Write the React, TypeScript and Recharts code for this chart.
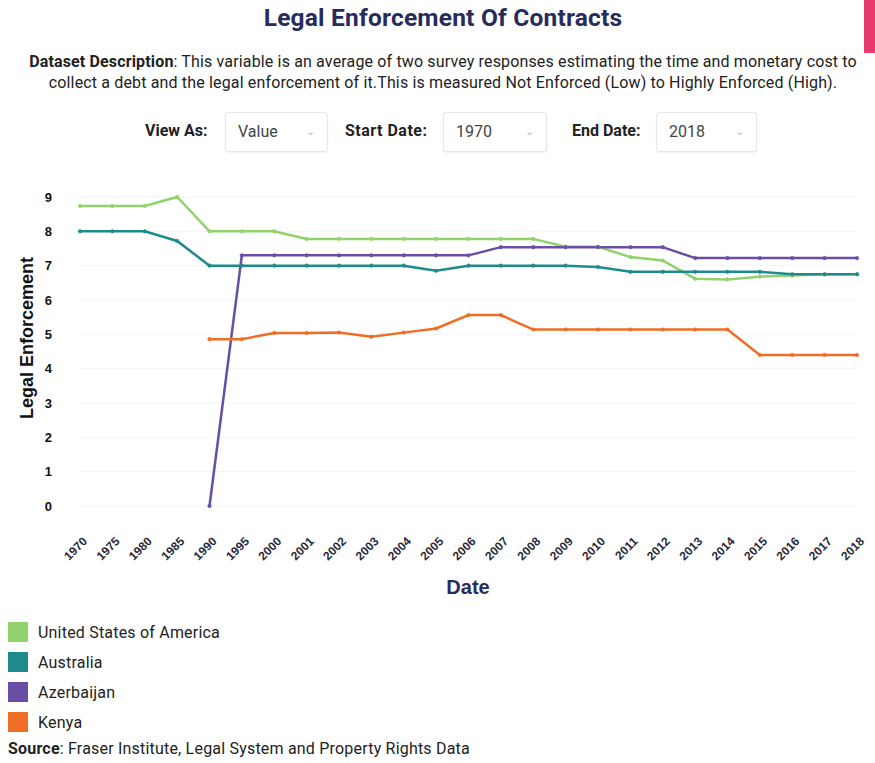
import { LineChart, Line, XAxis, YAxis, CartesianGrid } from 'recharts';

const YEARS = [
  '1970', '1975', '1980', '1985', '1990', '1995', '2000', '2001', '2002', '2003', '2004', '2005',
  '2006', '2007', '2008', '2009', '2010', '2011', '2012', '2013', '2014', '2015', '2016', '2017', '2018',
];

const USA = [
  8.74, 8.74, 8.74, 9.0, 8.0, 8.0, 8.0, 7.78, 7.78, 7.78, 7.78, 7.78,
  7.78, 7.78, 7.78, 7.55, 7.55, 7.25, 7.15, 6.62, 6.6, 6.68, 6.71, 6.75, 6.75,
];
const AUSTRALIA = [
  8.0, 8.0, 8.0, 7.72, 7.0, 7.0, 7.0, 7.0, 7.0, 7.0, 7.0, 6.85,
  7.0, 7.0, 7.0, 7.0, 6.96, 6.82, 6.82, 6.82, 6.82, 6.82, 6.75, 6.75, 6.75,
];
const AZERBAIJAN = [
  null, null, null, null, 0, 7.3, 7.3, 7.3, 7.3, 7.3, 7.3, 7.3,
  7.3, 7.54, 7.54, 7.54, 7.54, 7.54, 7.54, 7.22, 7.22, 7.22, 7.22, 7.22, 7.22,
];
const KENYA = [
  null, null, null, null, 4.86, 4.86, 5.04, 5.04, 5.05, 4.93, 5.05, 5.17,
  5.56, 5.56, 5.14, 5.14, 5.14, 5.14, 5.14, 5.14, 5.14, 4.4, 4.4, 4.4, 4.4,
];

const Y_TICKS = [0, 1, 2, 3, 4, 5, 6, 7, 8, 9];

const SERIES = [
  { key: 'usa', name: 'United States of America', color: '#92d26c', values: USA },
  { key: 'aus', name: 'Australia', color: '#1f8a8c', values: AUSTRALIA },
  { key: 'aze', name: 'Azerbaijan', color: '#6a4ea6', values: AZERBAIJAN },
  { key: 'ken', name: 'Kenya', color: '#ef6d24', values: KENYA },
];

const NAVY = '#272c5c';

function XTick({ x, y, payload }: any) {
  return (
    <g transform={`translate(${x + 8},${y + 28})`}>
      <text
        x={0}
        y={0}
        textAnchor="end"
        transform="rotate(-45)"
        fill="#2a2a3a"
        fontSize={12}
        fontWeight="bold"
        fontFamily="Liberation Sans, Arial, sans-serif"
      >
        {payload.value}
      </text>
    </g>
  );
}

function SelectBox({ left, width, value }: { left: number; width: number; value: string }) {
  return (
    <div
      style={{
        position: 'absolute', left, top: 112, width, height: 40, boxSizing: 'border-box',
        border: '1px solid #e6e6e6', borderRadius: 3, background: '#fff',
        boxShadow: '0 1px 2px rgba(0,0,0,0.06)',
        fontSize: 16, color: '#444', lineHeight: '38px', paddingLeft: 12,
      }}
    >
      {value}
      <span style={{ position: 'absolute', right: 12, top: 0, color: '#bbb', fontSize: 11 }}>⌄</span>
    </div>
  );
}

export default function App() {
  const data = YEARS.map((year, i) => {
    const row: Record<string, any> = { year };
    SERIES.forEach(s => { row[s.key] = s.values[i]; });
    return row;
  });

  return (
    <div
      style={{
        position: 'absolute', left: 0, top: 0, width: 875, height: 763,
        background: '#fff', fontFamily: 'Roboto, sans-serif', overflow: 'hidden',
      }}
    >
      <div style={{ position: 'absolute', left: 864, top: 0, width: 11, height: 53, background: '#e83a6c' }} />

      <div
        style={{
          position: 'absolute', left: 0, top: 3, width: 886, textAlign: 'center',
          fontSize: 24.5, fontWeight: 'bold', color: NAVY, letterSpacing: 0.2,
        }}
      >
        Legal Enforcement Of Contracts
      </div>

      <div
        style={{
          position: 'absolute', left: 0, top: 51, width: 886, textAlign: 'center',
          fontSize: 16, lineHeight: '21px', color: '#222', letterSpacing: 0.15, whiteSpace: 'nowrap',
        }}
      >
        <b>Dataset Description</b>: This variable is an average of two survey responses estimating the time and monetary cost to
        <br />
        collect a debt and the legal enforcement of it.This is measured Not Enforced (Low) to Highly Enforced (High).
      </div>

      <div style={{ position: 'absolute', left: 145, top: 121, fontSize: 16, fontWeight: 'bold', color: '#222' }}>View As:</div>
      <SelectBox left={225} width={103} value="Value" />
      <div style={{ position: 'absolute', left: 345, top: 121, fontSize: 16, fontWeight: 'bold', color: '#222', letterSpacing: 0.5 }}>Start Date:</div>
      <SelectBox left={443} width={104} value="1970" />
      <div style={{ position: 'absolute', left: 572, top: 121, fontSize: 16, fontWeight: 'bold', color: '#222' }}>End Date:</div>
      <SelectBox left={656} width={101} value="2018" />

      <div
        style={{
          position: 'absolute', left: 27, top: 338, transform: 'translate(-50%, -50%) rotate(-90deg)',
          whiteSpace: 'nowrap', fontSize: 18, fontWeight: 'bold', color: '#111',
          fontFamily: 'Liberation Sans, Arial, sans-serif',
        }}
      >
        Legal Enforcement
      </div>

      <div style={{ position: 'absolute', left: 0, top: 180 }}>
        <LineChart width={875} height={420} data={data} margin={{ top: 17, right: 18, left: 0, bottom: 34 }}>
          <CartesianGrid vertical={false} stroke="#f4f4f4" />
          <XAxis
            dataKey="year"
            interval={0}
            axisLine={false}
            tickLine={false}
            height={60}
            tick={<XTick />}
          />
          <YAxis
            width={80}
            domain={[0, 9]}
            ticks={Y_TICKS}
            axisLine={false}
            tickLine={false}
            tickMargin={22}
            tick={{ fill: '#111', fontSize: 13, fontWeight: 'bold', fontFamily: 'Liberation Sans, Arial, sans-serif' }}
          />
          {SERIES.map(s => (
            <Line
              key={s.key}
              dataKey={s.key}
              name={s.name}
              stroke={s.color}
              strokeWidth={2.5}
              dot={{ r: 1.8, fill: s.color, stroke: s.color, strokeWidth: 0.5 }}
              isAnimationActive={false}
            />
          ))}
        </LineChart>
      </div>

      <div
        style={{
          position: 'absolute', left: 0, top: 576, width: 936, textAlign: 'center',
          fontSize: 20, fontWeight: 'bold', color: NAVY,
          fontFamily: 'Liberation Sans, Arial, sans-serif',
        }}
      >
        Date
      </div>

      {SERIES.map((s, i) => (
        <div key={s.key} style={{ position: 'absolute', left: 8, top: 622 + i * 30, height: 20, display: 'flex', alignItems: 'center' }}>
          <span style={{ width: 20, height: 20, background: s.color, display: 'inline-block' }} />
          <span style={{ marginLeft: 10, fontSize: 16, color: '#222', letterSpacing: 0.2 }}>{s.name}</span>
        </div>
      ))}

      <div style={{ position: 'absolute', left: 8, top: 739, fontSize: 16, color: '#222', letterSpacing: 0.2 }}>
        <b>Source</b>: Fraser Institute, Legal System and Property Rights Data
      </div>
    </div>
  );
}
